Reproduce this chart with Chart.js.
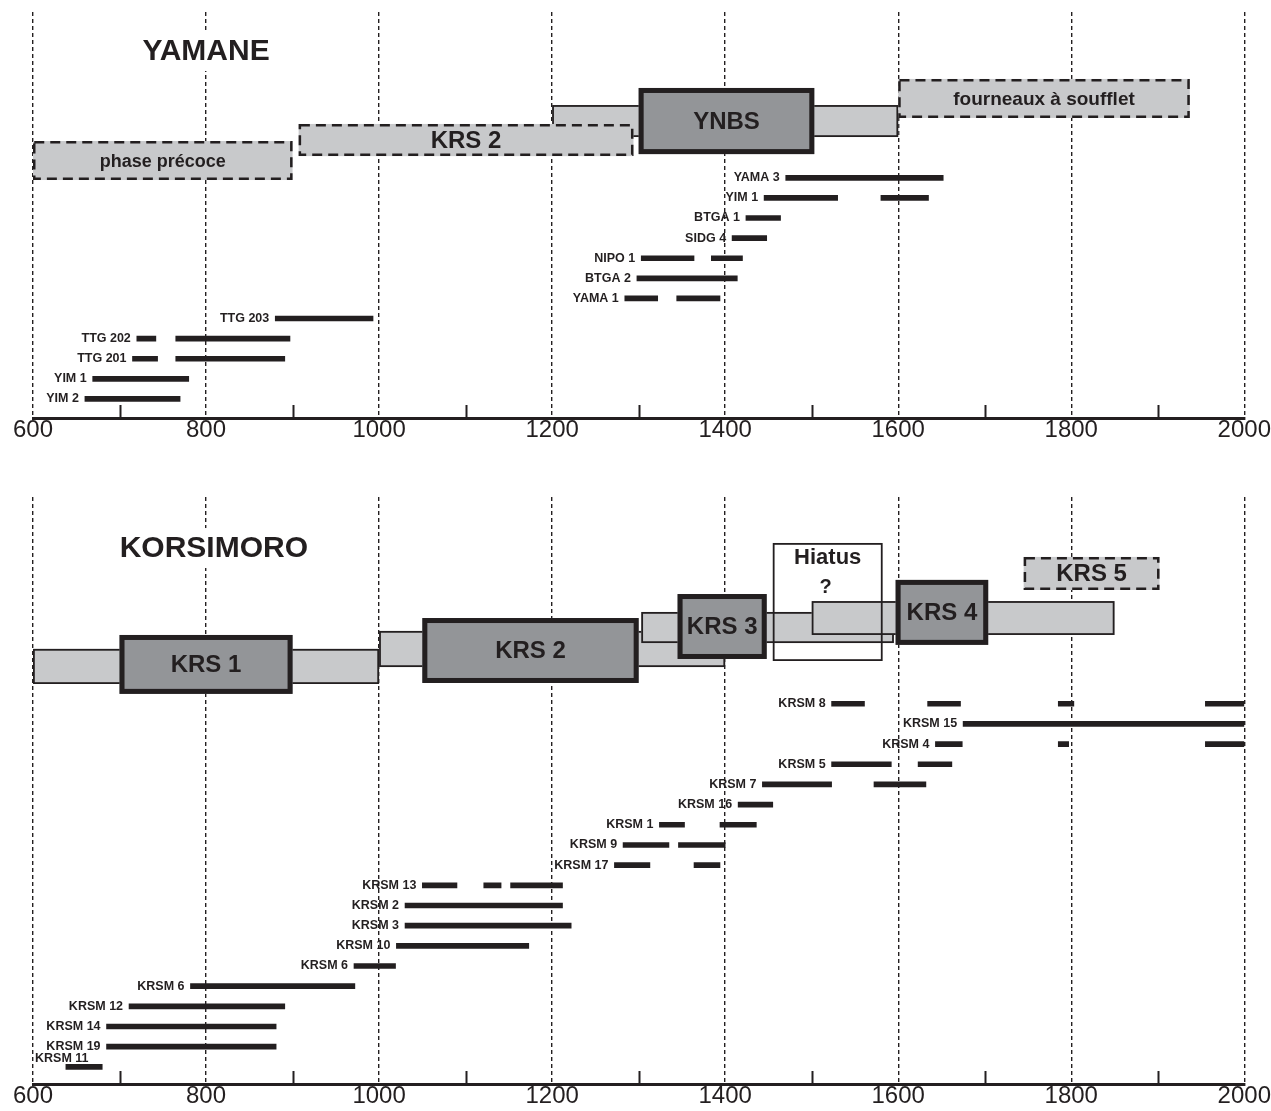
<!DOCTYPE html>
<html>
<head>
<meta charset="utf-8">
<title>Yamane / Korsimoro</title>
<script src="https://cdn.jsdelivr.net/npm/chart.js@4.4.0/dist/chart.umd.min.js"></script>
<style>
  body { margin: 0; background: #fff; }
  #wrap { position: relative; width: 1271px; height: 1111px; }
  #wrap canvas { position: absolute; left: 0; }
</style>
</head>
<body>
<div id="wrap">
  <canvas id="yamane" width="1271" height="450" style="top:0"></canvas>
  <canvas id="korsimoro" width="1271" height="661" style="top:450px"></canvas>
</div>
<script>
// ---- data: YAMANE (top to bottom) ----
const yamaneSamples = ['YAMA 3', 'YIM 1', 'BTGA 1', 'SIDG 4', 'NIPO 1', 'BTGA 2', 'YAMA 1',
  'TTG 203', 'TTG 202', 'TTG 201', 'YIM 1', 'YIM 2'];
const yamaneRanges = [
  [[1470, 1652]],
  [[1445, 1530], [1580, 1635]],
  [[1424, 1464]],
  [[1408, 1448]],
  [[1303, 1364], [1384, 1420]],
  [[1298, 1414]],
  [[1284, 1322], [1344, 1394]],
  [[880, 993]],
  [[720, 742], [765, 897]],
  [[715, 744], [765, 891]],
  [[669, 780]],
  [[660, 770]]
];
const yamanePhases = ['', 'phase précoce', 'KRS 2', 'YNBS', 'fourneaux à soufflet'];
const yamanePhaseFrom = [1200, 600, 907, 1300, 1600];
const yamanePhaseTo = [1600, 900, 1294, 1503, 1937];

// ---- data: KORSIMORO (top to bottom) ----
const korsSamples = ['KRSM 8', 'KRSM 15', 'KRSM 4', 'KRSM 5', 'KRSM 7', 'KRSM 16', 'KRSM 1',
  'KRSM 9', 'KRSM 17', 'KRSM 13', 'KRSM 2', 'KRSM 3', 'KRSM 10', 'KRSM 6', 'KRSM 6',
  'KRSM 12', 'KRSM 14', 'KRSM 19', 'KRSM 11'];
const korsRanges = [
  [[1523, 1561], [1634, 1672], [1785, 1803], [1955, 2000]],
  [[1675, 2000]],
  [[1643, 1674], [1785, 1797], [1955, 2000]],
  [[1523, 1592], [1623, 1662]],
  [[1443, 1523], [1572, 1632]],
  [[1415, 1455]],
  [[1324, 1353], [1394, 1436]],
  [[1282, 1335], [1346, 1400]],
  [[1272, 1313], [1364, 1394]],
  [[1050, 1090], [1121, 1141], [1152, 1212]],
  [[1030, 1212]],
  [[1030, 1222]],
  [[1020, 1173]],
  [[971, 1019]],
  [[782, 972]],
  [[711, 891]],
  [[685, 881]],
  [[685, 881]],
  [[638, 680]]
];
const korsPhases = ['', 'KRS 1', '', '', '', 'Hiatus|?', 'KRS 2', 'KRS 3', 'KRS 4', 'KRS 5'];
const korsPhaseFrom = [600, 700, 1000, 1303, 1500, 1455, 1050, 1345, 1597, 1745];
const korsPhaseTo = [1000, 900, 1400, 1595, 1850, 1582, 1300, 1448, 1704, 1902];

const axisMin = 600, axisMax = 2000, axisStep = 100, labelStep = 200;

// ---- layout / styles ----
const INK = '#231f20';
const LIGHT = '#c8c9cb';
const DARK = '#939598';
const FONT = "'Liberation Sans', Arial, Helvetica, sans-serif";

const yamaneLayout = {
  rows: [0.05, 20.25],
  padding: {top: 12, bottom: 8},
  title: {text: 'YAMANE', at: [800, 18.31]},
  boxes: [
    {kind: 'light', lo: 14.03, hi: 15.62},
    {kind: 'dashed', lo: 11.89, hi: 13.83, size: 18},
    {kind: 'dashed', lo: 13.08, hi: 14.68, size: 24},
    {kind: 'dark', lo: 13.18, hi: 16.47, size: 24},
    {kind: 'dashed', lo: 14.98, hi: 16.92, size: 19}
  ]
};
const korsLayout = {
  rows: [0.15, 29.25],
  padding: {top: 47, bottom: 3},
  title: {text: 'KORSIMORO', at: [809, 26.72]},
  boxes: [
    {kind: 'light', lo: 19.98, hi: 21.72},
    {kind: 'dark', lo: 19.49, hi: 22.41, size: 24},
    {kind: 'light', lo: 20.82, hi: 22.61},
    {kind: 'light', lo: 22.01, hi: 23.55},
    {kind: 'light', lo: 22.41, hi: 24.09},
    {kind: 'outline', lo: 21.12, hi: 26.97, size: 22},
    {kind: 'dark', lo: 20.03, hi: 23.25, size: 24},
    {kind: 'dark', lo: 21.22, hi: 24.44, size: 24},
    {kind: 'dark', lo: 21.92, hi: 25.14, size: 24},
    {kind: 'dashed', lo: 24.64, hi: 26.28, size: 24}
  ]
};

function toPoints(ranges) {
  const pts = [];
  ranges.forEach((segs, i) => {
    const row = ranges.length - i;
    segs.forEach(s => pts.push({x: s, y: row}));
  });
  return pts;
}

function panelPlugin(samples, ranges, names, from, to, lay) {
  return {
    id: 'panel',
    beforeDatasetsDraw(chart) {
      const {ctx, scales: {x, y}} = chart;
      ctx.save();
      // title, with a white patch that breaks the grid line
      ctx.font = 'bold 30px ' + FONT;
      ctx.textAlign = 'center';
      ctx.textBaseline = 'middle';
      const tx = x.getPixelForValue(lay.title.at[0]);
      const ty = y.getPixelForValue(lay.title.at[1]);
      const tw = ctx.measureText(lay.title.text).width;
      ctx.fillStyle = '#fff';
      ctx.fillRect(tx - tw / 2 - 4, ty - 20, tw + 8, 40);
      ctx.fillStyle = INK;
      ctx.fillText(lay.title.text, tx, ty + 1);

      names.forEach((name, i) => {
        const b = lay.boxes[i];
        const x0 = x.getPixelForValue(from[i]);
        const x1 = x.getPixelForValue(to[i]);
        const y0 = y.getPixelForValue(b.hi);
        const y1 = y.getPixelForValue(b.lo);
        let lw = 1.8;
        ctx.setLineDash([]);
        if (b.kind === 'dark') lw = 5;
        if (b.kind === 'dashed') { lw = 2.5; ctx.setLineDash([10, 6]); }
        if (b.kind !== 'outline') {
          ctx.fillStyle = b.kind === 'dark' ? DARK : LIGHT;
          ctx.fillRect(x0, y0, x1 - x0, y1 - y0);
        }
        ctx.lineWidth = lw;
        ctx.strokeStyle = INK;
        ctx.strokeRect(x0 + lw / 2, y0 + lw / 2, x1 - x0 - lw, y1 - y0 - lw);
        ctx.setLineDash([]);
        if (!name) return;
        ctx.fillStyle = INK;
        ctx.textAlign = 'center';
        ctx.textBaseline = 'middle';
        const cx = (x0 + x1) / 2;
        if (b.kind === 'outline') {
          const parts = name.split('|');
          ctx.font = 'bold ' + b.size + 'px ' + FONT;
          ctx.fillText(parts[0], cx, y0 + 15);
          ctx.font = 'bold 20px ' + FONT;
          ctx.fillText(parts[1], cx - 2, y0 + 44);
        } else {
          ctx.font = 'bold ' + b.size + 'px ' + FONT;
          ctx.fillText(name, cx, (y0 + y1) / 2 + 1);
        }
      });
      ctx.restore();
    },
    afterDatasetsDraw(chart) {
      const {ctx, chartArea, scales: {x, y}} = chart;
      ctx.save();
      // short ticks on the axis, every 100 years
      ctx.strokeStyle = INK;
      ctx.lineWidth = 2;
      x.ticks.forEach(t => {
        if (t.value % labelStep === 0) return;
        const px = Math.round(x.getPixelForValue(t.value)) + 0.5;
        ctx.beginPath();
        ctx.moveTo(px, chartArea.bottom);
        ctx.lineTo(px, chartArea.bottom - 13);
        ctx.stroke();
      });
      // sample labels
      ctx.font = 'bold 12.5px ' + FONT;
      ctx.fillStyle = INK;
      ctx.textBaseline = 'middle';
      samples.forEach((name, i) => {
        const row = samples.length - i;
        const py = y.getPixelForValue(row);
        const px = x.getPixelForValue(ranges[i][0][0]) - 6;
        const w = ctx.measureText(name).width;
        if (px - w < chartArea.left) {
          ctx.textAlign = 'left';
          ctx.fillText(name, chartArea.left + 2, py - 8);
        } else {
          ctx.textAlign = 'right';
          ctx.fillText(name, px, py);
        }
      });
      ctx.restore();
    }
  };
}

function drawPanel(id, samples, ranges, names, from, to, lay) {
  return new Chart(document.getElementById(id), {
    type: 'bar',
    data: {
      datasets: [{
        data: toPoints(ranges),
        backgroundColor: INK,
        borderWidth: 0,
        barThickness: 5
      }]
    },
    options: {
      indexAxis: 'y',
      responsive: false,
      animation: false,
      layout: {padding: {left: 33, right: 26, top: lay.padding.top, bottom: lay.padding.bottom}},
      plugins: {legend: {display: false}, tooltip: {enabled: false}},
      scales: {
        x: {
          type: 'linear',
          min: axisMin,
          max: axisMax,
          ticks: {
            stepSize: axisStep,
            autoSkip: false,
            maxRotation: 0,
            padding: 0,
            color: INK,
            font: {family: FONT, size: 24, lineHeight: 1},
            callback: v => (v % labelStep === 0 ? String(v) : '')
          },
          grid: {
            drawTicks: false,
            lineWidth: 1.4,
            color: c => (c.tick && c.tick.value % labelStep === 0 ? INK : 'rgba(0,0,0,0)')
          },
          border: {display: true, color: INK, width: 3, dash: [4, 3]}
        },
        y: {type: 'linear', min: lay.rows[0], max: lay.rows[1], offset: false, display: false}
      }
    },
    plugins: [panelPlugin(samples, ranges, names, from, to, lay)]
  });
}

drawPanel('yamane', yamaneSamples, yamaneRanges, yamanePhases, yamanePhaseFrom, yamanePhaseTo, yamaneLayout);
drawPanel('korsimoro', korsSamples, korsRanges, korsPhases, korsPhaseFrom, korsPhaseTo, korsLayout);
</script>
</body>
</html>
